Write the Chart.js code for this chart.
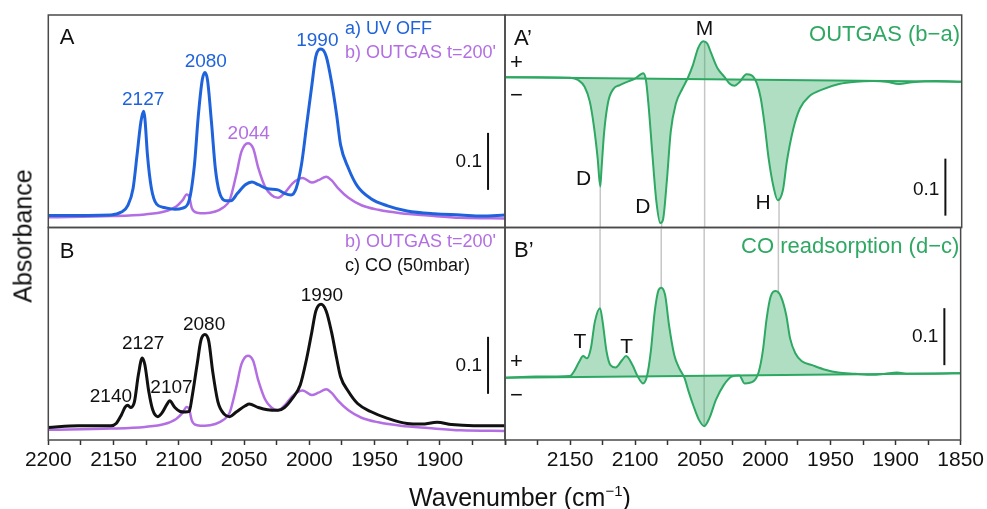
<!DOCTYPE html>
<html>
<head>
<meta charset="utf-8">
<title>IR spectra</title>
<script src="https://cdn.jsdelivr.net/npm/chart.js@4.4.1/dist/chart.umd.min.js"></script>
<style>
  body { margin:0; background:#fff; }
  #wrap { position:relative; width:987px; height:509px; overflow:hidden; font-family:"Liberation Sans", Arial, sans-serif; }
  #wrap canvas { position:absolute; left:0; top:0; }
  .ttl { position:absolute; font-size:25px; color:#111; white-space:nowrap; }
  #ylab { left:23px; top:236px; transform:translate(-50%,-50%) rotate(-90deg); }
  #xlab { left:520px; top:497px; transform:translate(-50%,-50%); }
  sup { font-size:15px; vertical-align:10px; line-height:0; }
</style>
</head>
<body>
<div id="wrap">
  <canvas id="pA" width="987" height="509"></canvas>
  <canvas id="pB" width="987" height="509"></canvas>
  <canvas id="pA2" width="987" height="509"></canvas>
  <canvas id="pB2" width="987" height="509"></canvas>
  <div class="ttl" id="ylab">Absorbance</div>
  <div class="ttl" id="xlab">Wavenumber (cm<sup>−1</sup>)</div>
</div>
<script>
// a) UV OFF
const wnA = [2200,2152,2144,2139,2135,2132,2129,2127,2126,2124,2121,2117,2111,2103,2097,2092,2088,2085,2082,2080,2078,2075,2072,2069,2064,2060,2055,2049,2044,2039,2032,2024,2019,2014,2010,2006,2002,1998,1995,1991,1987,1983,1979,1976,1970,1963,1953,1940,1925,1904,1884,1868,1850]
const absA = [0.021,0.022,0.027,0.039,0.069,0.127,0.186,0.204,0.192,0.127,0.069,0.041,0.035,0.032,0.034,0.048,0.110,0.197,0.259,0.272,0.259,0.186,0.104,0.063,0.047,0.047,0.060,0.075,0.080,0.075,0.068,0.066,0.060,0.057,0.069,0.110,0.180,0.250,0.300,0.313,0.300,0.256,0.197,0.145,0.104,0.072,0.051,0.038,0.029,0.024,0.022,0.020,0.022]
// b) OUTGAS t=200'
const wnB = [2200,2152,2126,2111,2102,2097,2094,2092,2090,2086,2080,2072,2066,2061,2056,2052,2047,2043,2039,2034,2029,2024,2018,2013,2007,2005,1998,1993,1987,1983,1978,1970,1960,1947,1930,1909,1884,1850]
const absB = [0.018,0.020,0.023,0.028,0.037,0.048,0.058,0.054,0.034,0.026,0.025,0.028,0.035,0.048,0.092,0.133,0.148,0.139,0.104,0.072,0.057,0.052,0.063,0.077,0.086,0.087,0.079,0.083,0.089,0.083,0.069,0.052,0.039,0.031,0.025,0.021,0.017,0.016]
// c) CO (50mbar)
const wnC = [2200,2177,2152,2148,2144,2141,2139,2137,2134,2131,2128,2126,2123,2120,2116,2113,2109,2107,2103,2099,2095,2092,2090,2086,2083,2080,2077,2074,2070,2065,2061,2056,2049,2046,2039,2032,2024,2019,2013,2007,2002,1998,1995,1991,1987,1983,1979,1976,1970,1963,1953,1940,1925,1914,1902,1891,1874,1850]
const absC = [0.022,0.025,0.025,0.029,0.044,0.058,0.061,0.057,0.067,0.114,0.144,0.132,0.085,0.053,0.041,0.047,0.063,0.069,0.057,0.050,0.049,0.050,0.073,0.132,0.175,0.185,0.173,0.120,0.067,0.045,0.041,0.049,0.060,0.063,0.057,0.053,0.052,0.057,0.073,0.096,0.143,0.190,0.226,0.238,0.226,0.190,0.143,0.111,0.085,0.064,0.050,0.038,0.029,0.028,0.031,0.027,0.025,0.025]
// OUTGAS (b-a)
const wnBA = [2200,2176,2150,2144,2139,2135,2132,2129,2127,2126,2124,2121,2117,2112,2105,2100,2096,2094,2092,2090,2087,2084,2081,2079,2076,2073,2069,2064,2060,2056,2052,2048,2045,2042,2037,2032,2028,2024,2020,2015,2011,2007,2004,2001,1998,1994,1991,1987,1984,1979,1974,1967,1956,1944,1931,1918,1908,1898,1888,1870,1850]
const dBA = [0.005,0.005,0.004,0.000,-0.012,-0.038,-0.079,-0.137,-0.187,-0.155,-0.091,-0.039,-0.016,-0.009,-0.002,0.003,0.010,0.012,0.000,-0.044,-0.132,-0.213,-0.251,-0.246,-0.178,-0.091,-0.041,-0.015,0.003,0.026,0.056,0.068,0.064,0.047,0.020,0.006,-0.006,-0.010,-0.003,0.010,0.008,-0.006,-0.032,-0.079,-0.137,-0.190,-0.211,-0.193,-0.143,-0.085,-0.050,-0.029,-0.016,-0.007,-0.003,-0.002,-0.003,-0.007,-0.004,-0.002,-0.003]
// CO readsorption (d-c)
const wnDC = [2200,2176,2150,2147,2143,2140,2137,2134,2131,2127,2125,2122,2119,2115,2110,2107,2102,2098,2094,2091,2088,2085,2082,2080,2077,2074,2070,2066,2062,2059,2055,2051,2047,2043,2038,2032,2026,2020,2016,2009,2005,2002,1999,1996,1992,1988,1984,1981,1977,1972,1964,1954,1944,1931,1918,1908,1899,1890,1870,1850]
const dDC = [-0.003,-0.001,0.000,0.008,0.025,0.035,0.031,0.049,0.095,0.119,0.095,0.043,0.019,0.015,0.028,0.035,0.019,-0.001,-0.013,-0.001,0.043,0.113,0.151,0.155,0.142,0.089,0.037,0.013,-0.004,-0.027,-0.054,-0.077,-0.088,-0.074,-0.042,-0.016,-0.001,0.001,-0.013,-0.009,0.008,0.043,0.101,0.139,0.149,0.139,0.107,0.066,0.040,0.026,0.019,0.011,0.006,0.004,0.002,0.004,0.006,0.004,0.004,0.005]
// straight baselines of the difference spectra
const baseWn = [2200, 1850]
const baseBA = [0.005, -0.003]
const baseDC = [-0.003, 0.005]

const ticksLeft = [2200, 2150, 2100, 2050, 2000, 1950, 1900]
const ticksRight = [2150, 2100, 2050, 2000, 1950, 1900, 1850]
const guides = [2127, 2080, 2047, 1990]
const peaksA = ['2127', '2080', '1990']
const peaksAb = ['2044']
const peaksC = ['2140', '2127', '2107', '2080', '1990']

const FONT = '"Liberation Sans", Arial, sans-serif'
const BLUE = '#1f63dc', PURPLE = '#b36ee3', BLACK = '#111111'
const GREEN = '#2ea862', FILL = 'rgba(46,168,98,0.38)', GRAY = '#c6c6c6'
Chart.defaults.font.family = FONT

function pts(xs, ys) { return xs.map((x, i) => ({x: x, y: ys[i]})) }

function line(xs, ys, color, w, extra) {
  return Object.assign({data: pts(xs, ys), borderColor: color, borderWidth: w, pointRadius: 0,
    cubicInterpolationMode: 'monotone', fill: false}, extra || {})
}

function interp(xs, ys, x) {
  for (let i = 0; i < xs.length - 1; i++) {
    if (xs[i] >= x && xs[i + 1] <= x) {
      let f = (xs[i] - x) / (xs[i] - xs[i + 1])
      return ys[i] + f * (ys[i + 1] - ys[i])
    }
  }
  return 0
}

// frame, guide lines, scale bar and all the little texts
function deco(cfg) {
  return {
    id: 'deco',
    beforeDatasetsDraw(chart) {
      if (!cfg.guide) return
      const ctx = chart.ctx, xs = chart.scales.x, ys = chart.scales.y, a = chart.chartArea
      ctx.save()
      ctx.strokeStyle = GRAY
      ctx.lineWidth = 1.5
      guides.forEach(g => {
        let px = xs.getPixelForValue(g)
        let py = ys.getPixelForValue(interp(cfg.guide.xs, cfg.guide.ys, g))
        ctx.beginPath()
        ctx.moveTo(px, py)
        ctx.lineTo(px, cfg.guide.to == 'bottom' ? a.bottom : a.top)
        ctx.stroke()
      })
      ctx.restore()
    },
    afterDatasetsDraw(chart) {
      const ctx = chart.ctx, xs = chart.scales.x, ys = chart.scales.y, a = chart.chartArea
      ctx.save()
      ctx.strokeStyle = '#4a4a4a'
      ctx.lineWidth = 1.5
      ctx.strokeRect(a.left, a.top, a.right - a.left, a.bottom - a.top)

      let b = cfg.bar
      let bx = xs.getPixelForValue(b[0])
      let b0 = ys.getPixelForValue(b[1]), b1 = ys.getPixelForValue(b[2])
      ctx.strokeStyle = '#111'
      ctx.lineWidth = 2
      ctx.beginPath(); ctx.moveTo(bx, b0); ctx.lineTo(bx, b1); ctx.stroke()
      ctx.fillStyle = '#111'
      ctx.font = '19px ' + FONT
      ctx.textAlign = 'right'
      ctx.textBaseline = 'middle'
      ctx.fillText('0.1', bx - 6, (b0 + b1) / 2 + (b[3] || 0))

      cfg.texts.forEach(t => {
        ctx.font = (t.size || 19) + 'px ' + FONT
        ctx.fillStyle = t.color || '#111'
        ctx.textAlign = t.align || 'center'
        ctx.textBaseline = 'middle'
        let px = t.px != null ? t.px : xs.getPixelForValue(t.x)
        let py = t.py != null ? t.py : ys.getPixelForValue(t.y)
        ctx.fillText(t.t, px, py)
      })
      ctx.restore()
    }
  }
}

function makeChart(id, datasets, pad, ymin, ymax, tickList, cfg) {
  let x = {type: 'linear', reverse: true, min: 1850, max: 2200, display: !!tickList}
  if (tickList) {
    x.border = {display: false}
    x.grid = {drawOnChartArea: false, drawTicks: true, tickLength: 5, tickColor: '#333', tickWidth: 1.5}
    x.ticks = {stepSize: 25, autoSkip: false, maxRotation: 0, minRotation: 0, padding: 3, color: '#111',
      font: {family: FONT, size: 21}, callback: v => tickList.includes(v) ? String(v) : ''}
    x.afterFit = s => { s.height = 40 }
  }
  return new Chart(document.getElementById(id), {
    type: 'line',
    data: {datasets: datasets},
    options: {
      responsive: false, animation: false, events: [],
      layout: {padding: pad},
      plugins: {legend: {display: false}, tooltip: {enabled: false}},
      scales: {x: x, y: {display: false, min: ymin, max: ymax}}
    },
    plugins: [deco(cfg)]
  })
}

// panel A
makeChart('pA',
  [line(wnA, absA, BLUE, 3), line(wnB, absB, PURPLE, 2.5)],
  {left: 48.3, top: 15, right: 482, bottom: 281.5}, 0, 0.3728, null,
  {bar: [1863, 0.066, 0.166],
   texts: [
     {t: 'A', px: 67, py: 38, size: 22},
     {t: peaksA[0], x: 2127.3, y: 0.224, color: BLUE},
     {t: peaksA[1], x: 2079.3, y: 0.291, color: BLUE},
     {t: peaksA[2], x: 1993.8, y: 0.327, color: BLUE},
     {t: peaksAb[0], x: 2046.4, y: 0.165, color: PURPLE},
     {t: 'a) UV OFF', px: 345, py: 29, align: 'left', color: BLUE, size: 18},
     {t: "b) OUTGAS t=200'", px: 345, py: 53, align: 'left', color: PURPLE, size: 18}
   ]})

// panel B
makeChart('pB',
  [line(wnC, absC, BLACK, 3), line(wnB, absB, PURPLE, 2.5)],
  {left: 48.3, top: 227.5, right: 482, bottom: 29}, 0, 0.3728, ticksLeft,
  {bar: [1863, 0.081, 0.181],
   texts: [
     {t: 'B', px: 67, py: 252, size: 22},
     {t: peaksC[0], x: 2152, y: 0.076},
     {t: peaksC[1], x: 2127.3, y: 0.168},
     {t: peaksC[2], x: 2105.6, y: 0.092},
     {t: peaksC[3], x: 2080.6, y: 0.203},
     {t: peaksC[4], x: 1990.3, y: 0.253},
     {t: "b) OUTGAS t=200'", px: 345, py: 242, align: 'left', color: PURPLE, size: 18},
     {t: 'c) CO (50mbar)', px: 345, py: 266, align: 'left', size: 18}
   ]})

// panel A'
makeChart('pA2',
  [line(wnBA, dBA, GREEN, 2, {fill: 1, backgroundColor: FILL}),
   line(baseWn, baseBA, GREEN, 2)],
  {left: 505, top: 15, right: 25.3, bottom: 281.5}, -0.2588, 0.114, null,
  {bar: [1862.5, -0.238, -0.138, 3],
   guide: {xs: wnBA, ys: dBA, to: 'bottom'},
   texts: [
     {t: 'A’', px: 514, py: 39, size: 22, align: 'left'},
     {t: '+', px: 516.3, py: 62.7, size: 22},
     {t: '−', px: 516.3, py: 95.7, size: 22},
     {t: 'D', x: 2139.8, y: -0.174, size: 21},
     {t: 'D', x: 2094.4, y: -0.224, size: 21},
     {t: 'M', x: 2047.2, y: 0.0895, size: 21},
     {t: 'H', x: 2002.3, y: -0.216, size: 21},
     {t: 'OUTGAS (b−a)', px: 960, py: 35, size: 22, align: 'right', color: GREEN}
   ]})

// panel B'
makeChart('pB2',
  [line(wnDC, dDC, GREEN, 2, {fill: 1, backgroundColor: FILL}),
   line(baseWn, baseDC, GREEN, 2)],
  {left: 505, top: 227.5, right: 25.3, bottom: 29}, -0.1123, 0.2605, ticksRight,
  {bar: [1862.5, 0.019, 0.119],
   guide: {xs: wnDC, ys: dDC, to: 'top'},
   texts: [
     {t: 'B’', px: 514, py: 251, size: 22, align: 'left'},
     {t: '+', px: 516.3, py: 361.7, size: 22},
     {t: '−', px: 516.3, py: 395.7, size: 22},
     {t: 'T', x: 2142.4, y: 0.060, size: 21},
     {t: 'T', x: 2106.6, y: 0.050, size: 21},
     {t: 'CO readsorption (d−c)', px: 959.3, py: 246.7, size: 22, align: 'right', color: GREEN}
   ]})
</script>
</body>
</html>
